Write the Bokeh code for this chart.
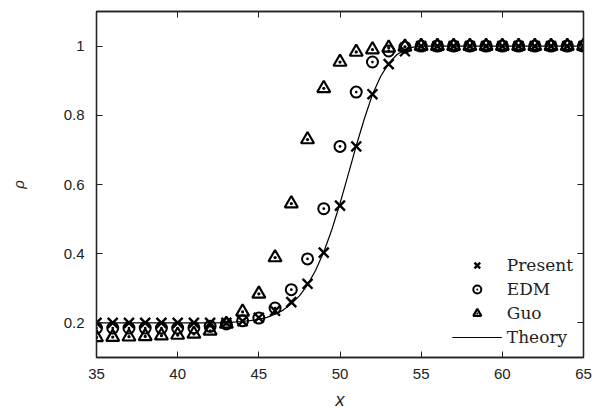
from bokeh.plotting import figure
from bokeh.models import (Range1d, FixedTicker, LinearAxis, CustomJSTickFormatter,
                          Legend, LegendItem)
from bokeh.embed import file_html
from bokeh.resources import INLINE

# ---- data ----
x_pts = list(range(35, 66))
present = [0.2] * 8 + [0.2, 0.205, 0.215, 0.235, 0.26, 0.313, 0.403, 0.539, 0.71,
                       0.861, 0.948, 0.985] + [1.0] * 11
edm = [0.185] * 6 + [0.186, 0.19, 0.197, 0.206, 0.214, 0.243, 0.296, 0.385, 0.53,
                     0.71, 0.867, 0.954, 0.986, 0.997] + [1.0] * 11
guo = [0.158, 0.159, 0.16, 0.161, 0.163, 0.165, 0.168, 0.177, 0.197, 0.232, 0.284,
       0.389, 0.545, 0.73, 0.878, 0.954, 0.983, 0.99, 0.995, 0.998] + [1.0] * 11
theory_x = [35, 40, 42, 43, 44, 45, 45.5, 46, 46.5, 47, 47.5, 48, 48.5, 49, 49.5, 50,
            50.5, 51, 51.5, 52, 52.5, 53, 53.5, 54, 54.5, 55, 60, 65]
theory_y = [0.2, 0.2, 0.2, 0.201, 0.204, 0.21, 0.216, 0.225, 0.237, 0.255, 0.278,
            0.31, 0.352, 0.405, 0.47, 0.545, 0.628, 0.712, 0.79, 0.86, 0.912, 0.95,
            0.975, 0.99, 0.997, 1.0, 1.0, 1.0]
x_ticks = [35, 40, 45, 50, 55, 60, 65]
y_ticks = [0.2, 0.4, 0.6, 0.8, 1.0]

p = figure(width=607, height=414, output_backend="svg", toolbar_location=None,
           x_range=Range1d(35, 65), y_range=Range1d(0.1, 1.1),
           x_axis_label="x", y_axis_label="ρ")
p.min_border_left = 96
p.min_border_right = 24
p.min_border_top = 11
p.min_border_bottom = 57
p.grid.visible = False
p.outline_line_color = "#222222"
p.outline_line_width = 1.3
p.background_fill_color = "white"
p.border_fill_color = "white"

fmt = CustomJSTickFormatter(code="return String(Number(tick.toFixed(2)));")
blank = CustomJSTickFormatter(code="return '';")

def style_axis(ax, ticks, labels=True):
    ax.ticker = FixedTicker(ticks=ticks)
    ax.formatter = fmt if labels else blank
    ax.major_tick_in = 6
    ax.major_tick_out = 0
    ax.minor_tick_in = 0
    ax.minor_tick_out = 0
    ax.axis_line_color = "#222222"
    ax.axis_line_width = 1.3
    ax.major_tick_line_color = "#222222"
    ax.major_tick_line_width = 1
    ax.major_label_text_font = "Liberation Sans"
    ax.major_label_text_font_size = "15px"
    ax.major_label_text_color = "#222222"
    ax.major_label_standoff = 12 if labels else 0
    ax.axis_label_text_font = "Liberation Sans"
    ax.axis_label_text_font_style = "italic"
    ax.axis_label_text_color = "#222222"

style_axis(p.xaxis[0], x_ticks)
style_axis(p.yaxis[0], y_ticks)
p.xaxis[0].major_label_standoff = 11
p.xaxis[0].axis_label_text_font_size = "18px"
p.xaxis[0].axis_label_standoff = 8
p.yaxis[0].axis_label_text_font_size = "15px"
p.yaxis[0].axis_label_standoff = 34

top = LinearAxis()
style_axis(top, x_ticks, labels=False)
p.add_layout(top, "above")
right = LinearAxis()
style_axis(right, y_ticks, labels=False)
p.add_layout(right, "right")

r_th = p.line(theory_x, theory_y, line_color="black", line_width=1.2)
r_pr = p.scatter(x_pts, present, marker="x", size=14, line_color="black", line_width=2.4)
r_ed = p.scatter(x_pts, edm, marker="circle_dot", size=11, line_color="black",
                 fill_color=None, line_width=2)
r_gu = p.scatter(x_pts, guo, marker="triangle_dot", size=13, line_color="black",
                 fill_color=None, line_width=2.2)

legend = Legend(items=[LegendItem(label="Present", renderers=[r_pr]),
                       LegendItem(label="EDM", renderers=[r_ed]),
                       LegendItem(label="Guo", renderers=[r_gu]),
                       LegendItem(label="Theory", renderers=[r_th])],
                location="bottom_right")
legend.background_fill_alpha = 0
legend.border_line_alpha = 0
legend.label_text_font = "DejaVu Serif"
legend.label_text_font_size = "17px"
legend.label_text_color = "#222222"
legend.label_height = 20
legend.glyph_height = 20
legend.glyph_width = 50
legend.spacing = 4
legend.margin = 4
legend.padding = 6
p.add_layout(legend)

open("out.html", "w").write(file_html(p, INLINE))
